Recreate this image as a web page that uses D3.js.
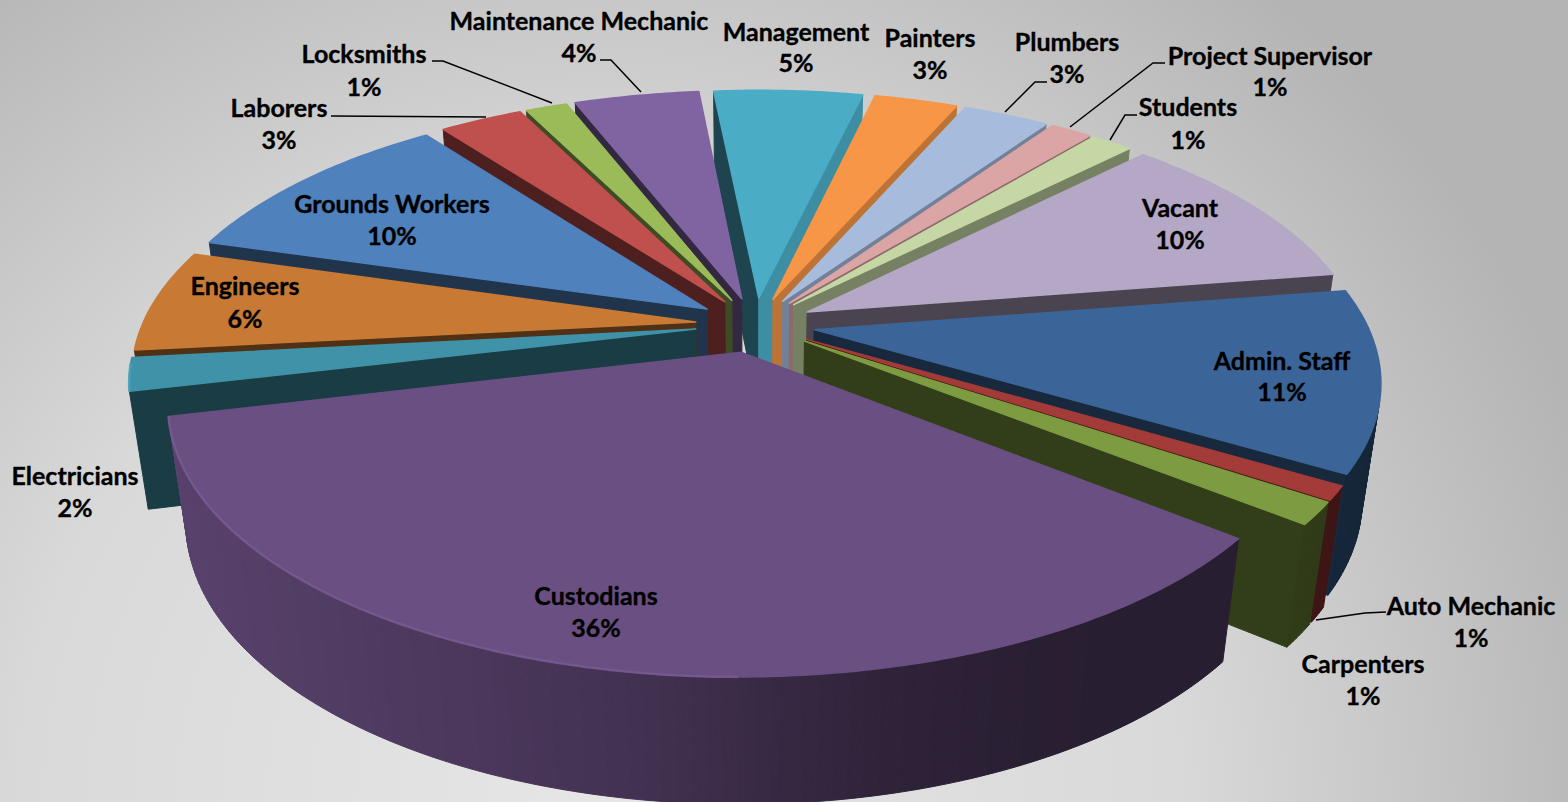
<!DOCTYPE html>
<html>
<head>
<meta charset="utf-8">
<script src="https://cdn.jsdelivr.net/npm/d3@7"></script>
<style>
  html, body { margin: 0; padding: 0; background: #d0d0d0; overflow: hidden; }
  text { font-family: Lato, "Open Sans", sans-serif; font-weight: 700; font-size: 25px; fill: #000; stroke: #000; stroke-width: 0.35px; }
</style>
</head>
<body>
<svg id="chart" width="1568" height="802"></svg>
<script>
var categories = ["Admin. Staff", "Auto Mechanic", "Carpenters", "Custodians", "Electricians", "Engineers",
  "Grounds Workers", "Laborers", "Locksmiths", "Maintenance Mechanic", "Management", "Painters",
  "Plumbers", "Project Supervisor", "Students", "Vacant"];
var values = [11, 0.85, 1.35, 36, 2, 6.2, 10, 2.8, 1.4, 4.2, 5, 2.8, 2.9, 1.4, 1.4, 9.9];
var percentLabels = ["11%", "1%", "1%", "36%", "2%", "6%", "10%", "3%", "1%", "4%", "5%", "3%", "3%", "1%", "1%", "10%"];
var colors = ["#3b6598", "#a33b38", "#7d9b40", "#6a4f82", "#3f92a8", "#c87a35", "#4f81bd", "#c0504d",
  "#9bbb59", "#8064a2", "#4bacc6", "#f79646", "#a7bcdd", "#dba5a5", "#c4d7a4", "#b5a8c6"];

// label centres, same order as categories
var labelX = [1282, 1471, 1363, 596, 75, 245, 392, 279, 364, 579, 796, 930, 1067, 1270, 1188, 1180];
var labelY = [361, 606, 664, 596, 476, 286, 204, 108, 54, 21, 32, 38, 42, 56, 107, 208];
var pctY = [392, 638, 696, 628, 508, 319, 236, 140, 87, 53, 63, 70, 74, 87, 140, 240];

var leaders = [
  [[331, 116], [486, 117]],
  [[432, 61], [443, 61], [552, 103]],
  [[600, 60], [611, 60], [641, 92]],
  [[1047, 82], [1035, 82], [1005, 112]],
  [[1165, 63], [1153, 63], [1070, 127]],
  [[1137, 115], [1125, 115], [1110, 140]],
  [[1386, 612], [1365, 613], [1316, 620]]
];

var width = 1568, height = 802;
var cx = 755, cy = 332;      // where the pie axis hits the top plane
var R = 556;                 // radius
var explode = 60;            // every slice pulled out by this much
var apexLift = 15;           // slice tips sit a bit behind the rim centre
var tilt = 0.462;            // y squash of the pie plane
var persp = 0.16;            // perspective along the pie plane
var depth = 119, perspZ = 0.03;
var startAngle = 79.5 * Math.PI / 180;

var svg = d3.select("#chart");
var defs = svg.append("defs");
var bg = defs.append("radialGradient").attr("id", "bg")
  .attr("gradientUnits", "userSpaceOnUse")
  .attr("cx", 600).attr("cy", 800).attr("r", 1050);
bg.append("stop").attr("offset", "0%").attr("stop-color", "#e6e6e6");
bg.append("stop").attr("offset", "55%").attr("stop-color", "#d9d9d9");
bg.append("stop").attr("offset", "100%").attr("stop-color", "#b4b4b4");
svg.append("rect").attr("width", width).attr("height", height).attr("fill", "url(#bg)");

function project(X, Y, z) {
  var w = 1 - persp * Y / R + perspZ * z;
  return [cx + X / w, cy + (Y * tilt + depth * z) / w];
}

var pie = d3.pie().sort(null).value(function(d) { return d; })
  .startAngle(startAngle).endAngle(startAngle + 2 * Math.PI);

var slices = pie(values).map(function(d, i) {
  var mid = (d.startAngle + d.endAngle) / 2;
  return {
    i: i, a0: d.startAngle, a1: d.endAngle, mid: mid,
    ox: explode * Math.sin(mid), oy: -explode * Math.cos(mid),
    color: colors[i]
  };
});

function shade(color, f) {
  var c = d3.rgb(color);
  return d3.rgb(c.r * f, c.g * f, c.b * f).formatHex();
}

function arcPoints(s) {
  var n = Math.max(4, Math.ceil((s.a1 - s.a0) / 0.012));
  return d3.range(n + 1).map(function(k) {
    var a = s.a0 + (s.a1 - s.a0) * k / n;
    return { a: a, X: s.ox + R * Math.sin(a), Y: s.oy - R * Math.cos(a) };
  });
}

var line = d3.line();
var order = slices.slice().sort(function(a, b) { return a.oy - b.oy; });

var gSlices = svg.append("g");
order.forEach(function(s) {
  var g = gSlices.append("g");
  var arc = arcPoints(s);
  var apex = { X: s.ox, Y: s.oy - apexLift };
  var first = arc[0], last = arc[arc.length - 1];

  function quad(p, q, fill) {
    var pts = [project(p.X, p.Y, 0), project(q.X, q.Y, 0), project(q.X, q.Y, 1), project(p.X, p.Y, 1)];
    if (d3.polygonArea(pts) <= 0) { return; }
    g.append("path").attr("d", line(pts) + "Z")
      .attr("fill", fill).attr("stroke", fill).attr("stroke-width", 1);
  }

  // walls between slices: dark when they face left or at us, lighter facing right
  function wallShade(angle) {
    var nx = Math.sin(angle);
    return 0.4 + 0.45 * Math.pow(Math.max(0, nx), 2.5);
  }
  quad(apex, first, shade(s.color, wallShade(s.a0 - Math.PI / 2)));
  quad(last, apex, shade(s.color, wallShade(s.a1 + Math.PI / 2)));

  // outer rim in thin strips so the light can change along it
  for (var k = 0; k < arc.length - 1; k++) {
    var nx = Math.sin(arc[k].a);
    var f = nx < 0 ? 0.55 + 0.3 * Math.pow(-nx, 0.75) : 0.38 + 0.17 * Math.pow(1 - Math.min(nx / 0.6, 1), 2);
    quad(arc[k], arc[k + 1], shade(s.color, f));
  }

  var top = [project(apex.X, apex.Y, 0)].concat(arc.map(function(p) { return project(p.X, p.Y, 0); }));
  g.append("path").attr("d", line(top) + "Z")
    .attr("fill", s.color).attr("stroke", s.color).attr("stroke-width", 1.5).attr("stroke-linejoin", "round");

  // soft bevel, only on the lit front left part of the rim
  var lit = arc.filter(function(p) { return Math.sin(p.a) < 0 && Math.cos(p.a) < -0.1; });
  if (lit.length > 1) {
    g.append("path").attr("d", line(lit.map(function(p) { return project(p.X, p.Y, 0); })))
      .attr("fill", "none").attr("stroke", d3.rgb(s.color).brighter(0.35).formatHex())
      .attr("stroke-opacity", 0.8).attr("stroke-width", 2.5);
  }
});

svg.append("g").selectAll("path").data(leaders).enter().append("path")
  .attr("d", function(d) { return line(d); })
  .attr("fill", "none").attr("stroke", "#000").attr("stroke-width", 1.5);

var labels = svg.append("g").selectAll("g").data(categories).enter().append("g");
labels.append("text")
  .attr("x", function(d, i) { return labelX[i]; })
  .attr("y", function(d, i) { return labelY[i]; })
  .attr("dy", "0.35em").attr("text-anchor", "middle")
  .text(function(d) { return d; });
labels.append("text")
  .attr("x", function(d, i) { return labelX[i]; })
  .attr("y", function(d, i) { return pctY[i]; })
  .attr("dy", "0.35em").attr("text-anchor", "middle")
  .text(function(d, i) { return percentLabels[i]; });
</script>
</body>
</html>
